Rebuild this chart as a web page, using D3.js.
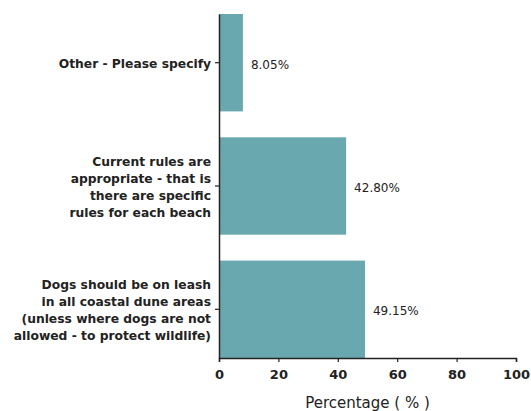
<!DOCTYPE html>
<html>
<head>
<meta charset="utf-8">
<script src="https://cdn.jsdelivr.net/npm/d3@7"></script>
<style>
  body { margin: 0; background: #fff; }
  svg { display: block; }
  text { font-family: "DejaVu Sans", sans-serif; fill: #222; }
</style>
</head>
<body>
<script>
// chart data
const categories = [
  ['Other - Please specify'],
  ['Current rules are', 'appropriate - that  is', 'there are specific', 'rules for each beach'],
  ['Dogs should be on leash', 'in all coastal dune areas', '(unless where dogs are not', 'allowed - to protect wildlife)']
];
const values = [8.05, 42.80, 49.15];
const xTicks = [0, 20, 40, 60, 80, 100];

const canvasWidth = 531;
const canvasHeight = 411;
const plotLeft = 219;
const plotRight = 516;
const plotTop = 14;
const plotBottom = 358;

const svg = d3.select('body')
  .append('svg')
    .attr('width', canvasWidth)
    .attr('height', canvasHeight);

const xScale = d3.scaleLinear()
    .domain([0, 100])
    .range([plotLeft, plotRight]);

const yScale = d3.scaleBand()
    .domain(d3.range(categories.length))
    .range([plotTop, plotBottom])
    .paddingInner(0.21)
    .paddingOuter(0);

// bars
svg.selectAll('rect.bar')
  .data(values)
  .enter()
  .append('rect')
    .attr('class', 'bar')
    .attr('x', xScale(0))
    .attr('y', (d, i) => yScale(i))
    .attr('width', d => xScale(d) - xScale(0))
    .attr('height', yScale.bandwidth())
    .attr('fill', '#6aa8b0');

// value labels
svg.selectAll('text.value')
  .data(values)
  .enter()
  .append('text')
    .attr('class', 'value')
    .attr('x', d => xScale(d) + 8)
    .attr('y', (d, i) => yScale(i) + yScale.bandwidth() / 2 + 2)
    .attr('dy', '0.35em')
    .style('font-size', '12px')
    .text(d => d.toFixed(2) + '%');

// x axis
const xAxis = svg.append('g')
    .attr('transform', `translate(0, ${plotBottom})`)
    .call(d3.axisBottom(xScale).tickValues(xTicks).tickSize(4).tickPadding(8));
xAxis.select('.domain').attr('stroke', '#222').attr('stroke-width', 1.5);
xAxis.selectAll('.tick line').attr('stroke', '#222').attr('stroke-width', 1.2);
xAxis.selectAll('.tick text')
    .style('font-family', '"DejaVu Sans", sans-serif')
    .style('font-size', '13px')
    .style('font-weight', 'bold')
    .attr('fill', '#222');

// y axis
const yAxis = svg.append('g')
    .attr('transform', `translate(${plotLeft}, 0)`)
    .call(d3.axisLeft(yScale).tickSize(4).tickSizeOuter(0).tickFormat(''));
yAxis.select('.domain').attr('stroke', '#222').attr('stroke-width', 1.5);
yAxis.selectAll('.tick line').attr('stroke', '#222').attr('stroke-width', 1.2);

// category labels
const lineHeight = 17;
categories.forEach((lines, i) => {
  const cy = yScale(i) + yScale.bandwidth() / 2 + 1;
  const label = svg.append('text')
      .attr('text-anchor', 'end')
      .style('font-size', '12.3px')
      .style('font-weight', 'bold')
      .attr('y', cy - (lines.length - 1) * lineHeight / 2);
  lines.forEach((line, j) => {
    label.append('tspan')
        .attr('x', plotLeft - 8)
        .attr('dy', j === 0 ? '0.35em' : lineHeight)
        .text(line);
  });
});

// axis title
svg.append('text')
    .attr('x', (plotLeft + plotRight) / 2)
    .attr('y', 408)
    .attr('text-anchor', 'middle')
    .style('font-size', '15px')
    .text('Percentage ( % )');
</script>
</body>
</html>
